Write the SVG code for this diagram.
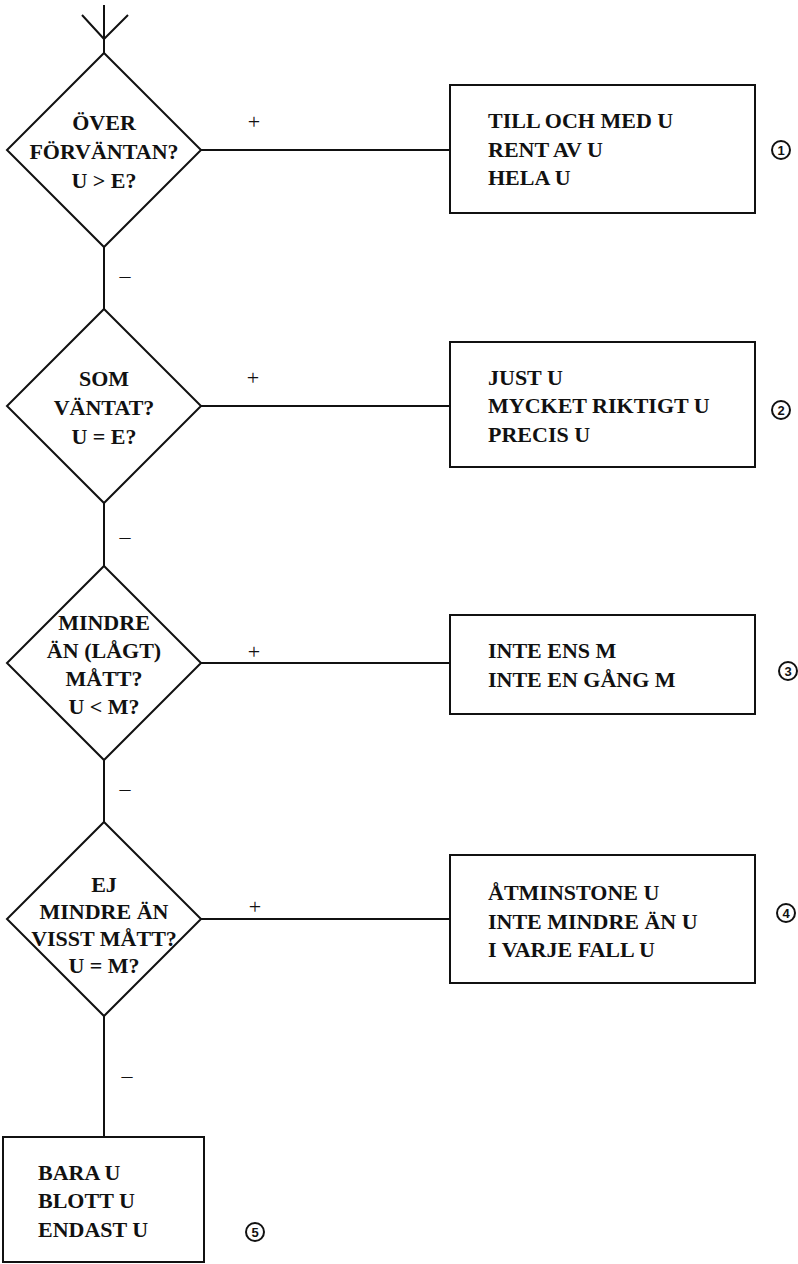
<svg xmlns="http://www.w3.org/2000/svg" width="798" height="1264" viewBox="0 0 798 1264">
<style>
.ln{stroke:#111;stroke-width:2;fill:none}
.shape{stroke:#111;stroke-width:2;fill:#fff}
.t{font-family:"Liberation Serif","Times New Roman",serif;font-size:22px;font-weight:bold;fill:#111}
.c{text-anchor:middle}
.sg{font-family:"Liberation Serif","Times New Roman",serif;font-size:22px;fill:#111;text-anchor:middle}
.num{stroke:#111;stroke-width:2;fill:#fff}
.nt{font-family:"Liberation Sans",Arial,sans-serif;font-size:13px;font-weight:bold;fill:#111;text-anchor:middle}
</style>
<rect width="798" height="1264" fill="#fff"/>
<g id="connectors">
<line class="ln" x1="104" y1="5" x2="104" y2="53"/>
<polyline class="ln" points="82,15 104,39 128,15"/>
<line class="ln" x1="104" y1="247" x2="104" y2="309"/>
<line class="ln" x1="104" y1="503" x2="104" y2="566"/>
<line class="ln" x1="104" y1="760" x2="104" y2="822"/>
<line class="ln" x1="104" y1="1016" x2="104" y2="1137"/>
<line class="ln" x1="201" y1="150" x2="450" y2="150"/>
<line class="ln" x1="201" y1="406" x2="450" y2="406"/>
<line class="ln" x1="201" y1="663" x2="450" y2="663"/>
<line class="ln" x1="201" y1="919" x2="450" y2="919"/>
<text class="sg" x="254" y="129">+</text>
<text class="sg" x="253" y="385">+</text>
<text class="sg" x="254" y="659">+</text>
<text class="sg" x="255" y="914">+</text>
<text class="sg" x="125" y="283">–</text>
<text class="sg" x="125" y="544">–</text>
<text class="sg" x="125" y="796">–</text>
<text class="sg" x="127" y="1083">–</text>
</g>
<g id="d1">
<polygon class="shape" points="104,53 201,150 104,247 7,150"/>
<text class="t c" x="104" y="130">ÖVER</text>
<text class="t c" x="104" y="159">FÖRVÄNTAN?</text>
<text class="t c" x="104" y="188">U &gt; E?</text>
</g>
<g id="d2">
<polygon class="shape" points="104,309 201,406 104,503 7,406"/>
<text class="t c" x="104" y="386">SOM</text>
<text class="t c" x="104" y="415">VÄNTAT?</text>
<text class="t c" x="104" y="444">U = E?</text>
</g>
<g id="d3">
<polygon class="shape" points="104,566 201,663 104,760 7,663"/>
<text class="t c" x="104" y="630">MINDRE</text>
<text class="t c" x="104" y="658">ÄN (LÅGT)</text>
<text class="t c" x="104" y="686">MÅTT?</text>
<text class="t c" x="104" y="714">U &lt; M?</text>
</g>
<g id="d4">
<polygon class="shape" points="104,822 201,919 104,1016 7,919"/>
<text class="t c" x="104" y="892">EJ</text>
<text class="t c" x="104" y="919">MINDRE ÄN</text>
<text class="t c" x="104" y="946">VISST MÅTT?</text>
<text class="t c" x="104" y="973">U = M?</text>
</g>
<g id="b1">
<rect class="shape" x="450" y="85" width="305" height="128"/>
<text class="t" x="488" y="128">TILL OCH MED U</text>
<text class="t" x="488" y="157">RENT AV U</text>
<text class="t" x="488" y="185">HELA U</text>
</g>
<g id="n1"><circle class="num" cx="781" cy="150" r="9"/><text class="nt" x="781" y="155">1</text></g>
<g id="b2">
<rect class="shape" x="450" y="342" width="305" height="125"/>
<text class="t" x="488" y="385">JUST U</text>
<text class="t" x="488" y="413">MYCKET RIKTIGT U</text>
<text class="t" x="488" y="442">PRECIS U</text>
</g>
<g id="n2"><circle class="num" cx="781" cy="410" r="9"/><text class="nt" x="781" y="415">2</text></g>
<g id="b3">
<rect class="shape" x="450" y="615" width="305" height="99"/>
<text class="t" x="488" y="658">INTE ENS M</text>
<text class="t" x="488" y="687">INTE EN GÅNG M</text>
</g>
<g id="n3"><circle class="num" cx="788" cy="671" r="9"/><text class="nt" x="788" y="676">3</text></g>
<g id="b4">
<rect class="shape" x="450" y="855" width="305" height="128"/>
<text class="t" x="488" y="900">ÅTMINSTONE U</text>
<text class="t" x="488" y="929">INTE MINDRE ÄN U</text>
<text class="t" x="488" y="957">I VARJE FALL U</text>
</g>
<g id="n4"><circle class="num" cx="786" cy="913" r="9"/><text class="nt" x="786" y="918">4</text></g>
<g id="b5">
<rect class="shape" x="3" y="1137" width="201" height="125"/>
<text class="t" x="38" y="1180">BARA U</text>
<text class="t" x="38" y="1208">BLOTT U</text>
<text class="t" x="38" y="1237">ENDAST U</text>
</g>
<g id="n5"><circle class="num" cx="255" cy="1232" r="9"/><text class="nt" x="255" y="1237">5</text></g>
</svg>
